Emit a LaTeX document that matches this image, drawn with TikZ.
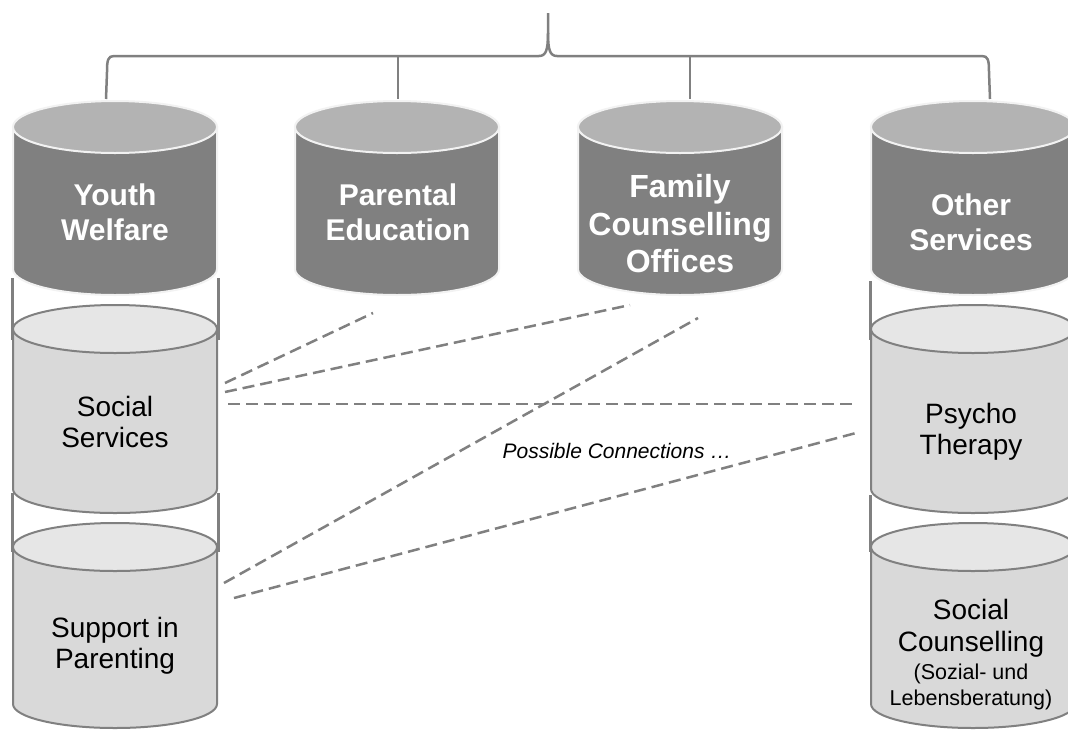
\documentclass[tikz,border=0pt]{standalone}
\usepackage{fontspec}
\setmainfont{Liberation Sans}
\definecolor{edgegray}{HTML}{808080}
\definecolor{darkbody}{HTML}{808080}
\definecolor{darktop}{HTML}{B3B3B3}
\definecolor{halo}{HTML}{F2F2F2}
\definecolor{lightbody}{HTML}{D9D9D9}
\definecolor{lighttop}{HTML}{E6E6E6}
\newcommand\drawcyl[8]{%
  \filldraw[fill=#6, draw=#8, line width=2pt] ({#1-#4},#2) -- ({#1-#4},#3)
    arc[start angle=180,end angle=360,x radius=#4pt,y radius=#5pt] -- ({#1+#4},#2) -- cycle;
  \filldraw[fill=#7, draw=#8, line width=2pt] (#1,#2) ellipse[x radius=#4pt, y radius=#5pt];
}
\tikzset{
  bracestyle/.style={draw=edgegray, line width=2.5pt, line join=round},
  sideline/.style={draw=edgegray, line width=3pt},
  dashconn/.style={draw=edgegray, line width=2.5pt, dash pattern=on 12pt off 6pt},
  darktext/.style={text=white, font=\bfseries\fontsize{30}{35}\selectfont, align=center},
  lighttext/.style={text=black, font=\fontsize{28}{31}\selectfont, align=center},
}
\begin{document}
\begin{tikzpicture}[x=1pt,y=-1pt]
\clip (0,0) rectangle (1068,729);
\fill[white] (0,0) rectangle (1068,729);
% top brace
\coordinate (apex) at (548,13);
\coordinate (ywtop) at (106,99);
\coordinate (petop) at (398,99);
\coordinate (fctop) at (690,99);
\coordinate (ostop) at (990,99);
\draw[bracestyle] (apex) -- (548,33) .. controls (548,50) and (546,56) .. (539,56) -- (114,56)
  .. controls (108,56) and (107,60) .. (107,72) -- (ywtop);
\draw[bracestyle] (548,33) .. controls (548,50) and (550,56) .. (557,56) -- (982,56)
  .. controls (988,56) and (989,60) .. (989,72) -- (ostop);
\draw[bracestyle] (398,56) -- (petop);
\draw[bracestyle] (690,56) -- (fctop);
% side lines linking stacked cylinders
\draw[sideline] (12,278) -- (12,340);
\draw[sideline] (218,278) -- (218,340);
\draw[sideline] (12,493) -- (12,552);
\draw[sideline] (218,493) -- (218,552);
\draw[sideline] (870,281) -- (870,340);
\draw[sideline] (1076,281) -- (1076,340);
\draw[sideline] (870,495) -- (870,552);
\draw[sideline] (1076,495) -- (1076,552);
% dark cylinders
\drawcyl{115}{127}{269}{102}{26}{darkbody}{darktop}{halo}
\drawcyl{397}{127}{269}{102}{26}{darkbody}{darktop}{halo}
\drawcyl{680}{127}{269}{102}{26}{darkbody}{darktop}{halo}
\drawcyl{973}{127}{269}{102}{26}{darkbody}{darktop}{halo}
% light cylinders
\drawcyl{115}{329}{489}{102}{24}{lightbody}{lighttop}{edgegray}
\drawcyl{115}{547}{704}{102}{24}{lightbody}{lighttop}{edgegray}
\drawcyl{973}{329}{489}{102}{24}{lightbody}{lighttop}{edgegray}
\drawcyl{973}{547}{704}{102}{24}{lightbody}{lighttop}{edgegray}
% labels
\node[darktext] (yw) at (115,212) {Youth\\Welfare};
\node[darktext] (pe) at (398,212) {Parental\\Education};
\node[darktext, font=\bfseries\fontsize{32}{37.5}\selectfont] (fc) at (680,224) {Family\\Counselling\\Offices};
\node[darktext] (os) at (971,222) {Other\\Services};
\node[lighttext] (ss) at (115,422) {Social\\Services};
\node[lighttext] (sp) at (115,646) {Support in\\Parenting};
\node[lighttext] (pt) at (971,432) {Psycho\\Therapy};
\node[lighttext, font=\fontsize{28}{32}\selectfont] (sc) at (971,655)
  {Social\\Counselling\\[-4pt]{\fontsize{21.5}{25}\selectfont (Sozial- und}\\[-6pt]{\fontsize{21.5}{25}\selectfont Lebensberatung)}};
\node[font=\itshape\fontsize{21}{24}\selectfont] (pc) at (617,451) {Possible Connections \dots};
% dashed connections
\coordinate (ssA) at (225,383);
\coordinate (ssB) at (225,392);
\coordinate (ssC) at (228,404);
\coordinate (spA) at (224,583);
\coordinate (spB) at (234,598);
\coordinate (peB) at (373,313);
\coordinate (fcB1) at (630,305);
\coordinate (fcB2) at (698,318);
\coordinate (ptA) at (856,404);
\coordinate (ptB) at (856,433);
\draw[dashconn] (ssA) -- (peB);
\draw[dashconn] (ssB) -- (fcB1);
\draw[dashconn] (ssC) -- (ptA);
\draw[dashconn] (spA) -- (fcB2);
\draw[dashconn] (spB) -- (ptB);
\end{tikzpicture}
\end{document}
